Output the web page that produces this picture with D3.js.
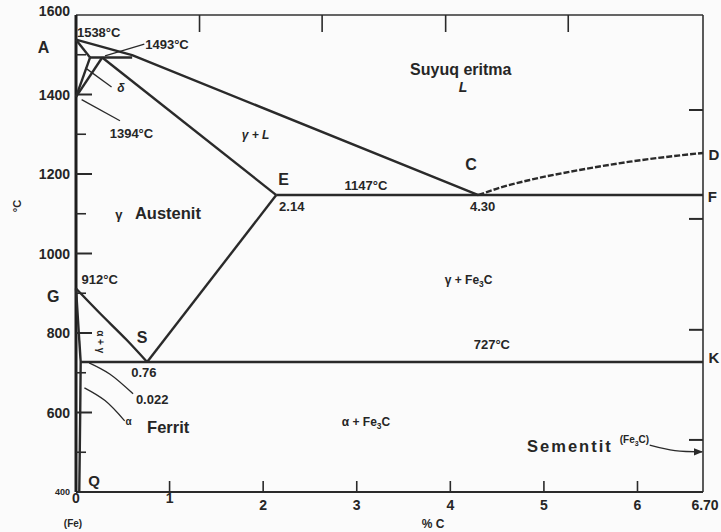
<!DOCTYPE html>
<html>
<head>
<meta charset="utf-8">
<script src="https://cdn.jsdelivr.net/npm/d3@7"></script>
<style>
  body { margin: 0; background: #fbfbfb; }
  svg { display: block; }
  .lbl { font-family: "Liberation Sans", Arial, sans-serif; fill: #262626; font-weight: bold; }
  .phase { fill: none; stroke: #2a2a2a; stroke-width: 2.4; stroke-linejoin: round; }
  .leader { fill: none; stroke: #2a2a2a; stroke-width: 1.3; }
</style>
</head>
<body>
<div id="chart"></div>
<script>
var width = 721;
var height = 532;

// axis ticks
var tempMajor = [400, 600, 800, 1000, 1200, 1400, 1600];
var tempMinor = [500, 700, 900, 1100, 1300, 1500];
var carbonTicks = [0, 1, 2, 3, 4, 5, 6, 6.70];
var topTicks = [1.32, 2.63, 3.95, 5.26];
var rightTicks = [1361, 1087, 808, 531];

// phase boundaries, [%C, °C]
var liquidusABC = [[0, 1538], [0.6, 1499], [4.30, 1147]];
var liquidusCD = [[4.30, 1147], [4.55, 1167], [4.85, 1185], [5.38, 1210], [5.92, 1231], [6.70, 1253]];
var peritectic = [[0.15, 1493], [0.6, 1493]];
var deltaAH = [[0, 1538], [0.15, 1493]];
var deltaHN = [[0.15, 1493], [0, 1394]];
var deltaJN = [[0.28, 1493], [0, 1394]];
var solidusJE = [[0.28, 1493], [2.14, 1147]];
var eutectic = [[2.14, 1147], [6.70, 1147]];
var solvusES = [[2.14, 1147], [0.76, 727]];
var lineGS = [[0, 912], [0.25, 851], [0.54, 783], [0.76, 727]];
var lineGP = [[0, 912], [0.05, 727]];
var linePQ = [[0.05, 727], [0.045, 600], [0.035, 400]];
var eutectoid = [[0.05, 727], [6.70, 727]];

// leader lines for annotations
var leaders = [
  [[0.31, 1497], [0.73, 1527]],
  [[0.10, 1467], [0.38, 1419]],
  [[0.06, 1387], [0.47, 1334]],
  [[0.14, 725], [0.36, 697], [0.61, 647]],
  [[0.09, 662], [0.31, 630], [0.52, 579]]
];
var sementitArrow = [[6.13, 518], [6.40, 504], [6.69, 501]];

var svg = d3.select("#chart")
  .append("svg")
  .attr("width", width)
  .attr("height", height);

var xScale = d3.scaleLinear().domain([0, 6.70]).range([76, 703]);
var yScale = d3.scaleLinear().domain([400, 1600]).range([492, 15]);

var line = d3.line()
  .x(function(d) { return xScale(d[0]); })
  .y(function(d) { return yScale(d[1]); });
var curve = d3.line()
  .x(function(d) { return xScale(d[0]); })
  .y(function(d) { return yScale(d[1]); })
  .curve(d3.curveMonotoneX);
var curveY = d3.line()
  .x(function(d) { return xScale(d[0]); })
  .y(function(d) { return yScale(d[1]); })
  .curve(d3.curveCatmullRom);

// frame
svg.append("line").attr("x1", xScale(0)).attr("x2", xScale(6.70))
  .attr("y1", yScale(1600)).attr("y2", yScale(1600))
  .attr("stroke", "#333").attr("stroke-width", 1.6);
svg.append("line").attr("x1", xScale(6.70)).attr("x2", xScale(6.70))
  .attr("y1", yScale(1600)).attr("y2", yScale(400))
  .attr("stroke", "#333").attr("stroke-width", 1.6);
svg.append("line").attr("x1", xScale(0)).attr("x2", xScale(6.70))
  .attr("y1", yScale(400)).attr("y2", yScale(400))
  .attr("stroke", "#2a2a2a").attr("stroke-width", 2);
svg.append("line").attr("x1", xScale(0)).attr("x2", xScale(0))
  .attr("y1", yScale(1600)).attr("y2", yScale(400))
  .attr("stroke", "#1e1e1e").attr("stroke-width", 3);

// left ticks (inside)
svg.selectAll(".tmaj").data(tempMajor.slice(1, -1)).enter()
  .append("line")
  .attr("x1", xScale(0)).attr("x2", xScale(0) + 16)
  .attr("y1", function(d) { return yScale(d); })
  .attr("y2", function(d) { return yScale(d); })
  .attr("stroke", "#2a2a2a").attr("stroke-width", 2);
svg.selectAll(".tmin").data(tempMinor).enter()
  .append("line")
  .attr("x1", xScale(0)).attr("x2", xScale(0) + 10)
  .attr("y1", function(d) { return yScale(d); })
  .attr("y2", function(d) { return yScale(d); })
  .attr("stroke", "#2a2a2a").attr("stroke-width", 1.6);

// right ticks
svg.selectAll(".rt").data(rightTicks).enter()
  .append("line")
  .attr("x1", xScale(6.70) - 14).attr("x2", xScale(6.70))
  .attr("y1", function(d) { return yScale(d); })
  .attr("y2", function(d) { return yScale(d); })
  .attr("stroke", "#2a2a2a").attr("stroke-width", 2);

// top ticks
svg.selectAll(".tt").data(topTicks).enter()
  .append("line")
  .attr("x1", function(d) { return xScale(d); })
  .attr("x2", function(d) { return xScale(d); })
  .attr("y1", yScale(1600)).attr("y2", yScale(1600) + 17)
  .attr("stroke", "#2a2a2a").attr("stroke-width", 1.6);

// bottom ticks
svg.selectAll(".bt").data(carbonTicks.slice(1, -1)).enter()
  .append("line")
  .attr("x1", function(d) { return xScale(d); })
  .attr("x2", function(d) { return xScale(d); })
  .attr("y1", yScale(400)).attr("y2", yScale(400) - 11)
  .attr("stroke", "#2a2a2a").attr("stroke-width", 1.6);

// tick labels
svg.selectAll(".yl").data(tempMajor).enter()
  .append("text")
  .attr("class", "lbl")
  .attr("x", 70)
  .attr("y", function(d) { return yScale(d); })
  .attr("dy", function(d) { return d === 1600 ? "0.1em" : "0.36em"; })
  .attr("text-anchor", "end")
  .attr("font-size", function(d) { return d === 400 ? 9 : 14; })
  .text(function(d) { return d; });

svg.selectAll(".xl").data(carbonTicks).enter()
  .append("text")
  .attr("class", "lbl")
  .attr("x", function(d) { return xScale(d) + (d === 6.70 ? 2 : 0); })
  .attr("y", function(d) { return d < 2 ? 503 : 510; })
  .attr("text-anchor", "middle")
  .attr("font-size", 14)
  .text(function(d) { return d === 6.70 ? "6.70" : d; });

svg.append("text").attr("class", "lbl")
  .attr("x", xScale(0) - 3).attr("y", 527)
  .attr("text-anchor", "middle").attr("font-size", 10)
  .text("(Fe)");
svg.append("text").attr("class", "lbl")
  .attr("x", 433).attr("y", 528)
  .attr("text-anchor", "middle").attr("font-size", 12)
  .text("% C");
svg.append("text").attr("class", "lbl")
  .attr("transform", "translate(21,206)rotate(-90)")
  .attr("text-anchor", "middle").attr("font-size", 11)
  .text("°C");

// phase lines
[liquidusABC, peritectic, deltaAH, deltaHN, deltaJN, solidusJE, solvusES, lineGP].forEach(function(p) {
  svg.append("path").attr("class", "phase").attr("d", line(p));
});
svg.append("path").attr("class", "phase").attr("d", curveY(lineGS));
svg.append("path").attr("class", "phase").attr("d", curveY(linePQ)).attr("stroke-width", 2.6);
svg.append("path").attr("class", "phase").attr("d", line(eutectic)).attr("stroke-width", 3.2);
svg.append("path").attr("class", "phase").attr("d", line(eutectoid)).attr("stroke-width", 3);
svg.append("path").attr("class", "phase").attr("d", curve(liquidusCD))
  .attr("stroke-dasharray", "6,2").attr("stroke-width", 2.6);

// leaders
leaders.forEach(function(p) {
  svg.append("path").attr("class", "leader").attr("d", curveY(p));
});

svg.append("defs").append("marker")
  .attr("id", "arr").attr("viewBox", "0 0 10 10")
  .attr("refX", 9).attr("refY", 5)
  .attr("markerWidth", 7).attr("markerHeight", 7)
  .attr("orient", "auto")
  .append("path").attr("d", "M0,1L10,5L0,9Z").attr("fill", "#2a2a2a");
svg.append("path").attr("class", "leader")
  .attr("d", curveY(sementitArrow))
  .attr("marker-end", "url(#arr)");

// region and point labels [text, %C, °C, size, style]
var labels = [
  ["1538°C", 0.01, 1545, 13, ""],
  ["A", -0.41, 1505, 16, ""],
  ["1493°C", 0.74, 1515, 13, ""],
  ["δ", 0.44, 1407, 12, "italic"],
  ["1394°C", 0.36, 1291, 13, ""],
  ["Suyuq eritma", 3.57, 1449, 16, ""],
  ["L", 4.09, 1407, 14, "italic"],
  ["γ + L", 1.77, 1289, 12, "italic"],
  ["C", 4.16, 1210, 16, ""],
  ["E", 2.16, 1173, 16, ""],
  ["1147°C", 2.87, 1160, 13, ""],
  ["2.14", 2.17, 1106, 13, ""],
  ["4.30", 4.21, 1106, 13, ""],
  ["D", 6.76, 1235, 15, ""],
  ["F", 6.75, 1130, 15, ""],
  ["K", 6.76, 725, 15, ""],
  ["γ", 0.42, 1087, 13, ""],
  ["Austenit", 0.63, 1087, 16.5, ""],
  ["912°C", 0.06, 923, 13, ""],
  ["G", -0.31, 878, 16, ""],
  ["S", 0.65, 775, 16, ""],
  ["0.76", 0.59, 690, 13, ""],
  ["0.022", 0.64, 622, 13, ""],
  ["727°C", 4.25, 760, 13, ""],
  ["α", 0.53, 568, 10, ""],
  ["Ferrit", 0.76, 549, 16.5, ""],
  ["Q", 0.13, 415, 15, ""]
];
svg.selectAll(".ann").data(labels).enter()
  .append("text")
  .attr("class", "lbl")
  .attr("x", function(d) { return xScale(d[1]); })
  .attr("y", function(d) { return yScale(d[2]); })
  .attr("font-size", function(d) { return d[3]; })
  .attr("font-style", function(d) { return d[4] || null; })
  .text(function(d) { return d[0]; });

svg.append("text").attr("class", "lbl")
  .attr("x", xScale(4.82)).attr("y", yScale(501))
  .attr("font-size", 16.5).attr("letter-spacing", 2)
  .text("Sementit");

// labels with subscripts
function fe3c(parent, prefix, c, t, size) {
  var tx = parent.append("text").attr("class", "lbl")
    .attr("x", xScale(c)).attr("y", yScale(t))
    .attr("font-size", size);
  tx.append("tspan").text(prefix + "Fe");
  tx.append("tspan").attr("font-size", size * 0.7).attr("dy", 3).text("3");
  tx.append("tspan").attr("dy", -3).text("C" + (prefix === "(" ? ")" : ""));
}
fe3c(svg, "γ + ", 3.94, 923, 12);
fe3c(svg, "α + ", 2.84, 566, 12);
fe3c(svg, "(", 5.81, 524, 10);

// rotated α + γ
svg.append("text").attr("class", "lbl")
  .attr("transform", "translate(" + (xScale(0.22)) + "," + yScale(778) + ")rotate(90)")
  .attr("text-anchor", "middle").attr("font-size", 10)
  .text("α + γ");
</script>
</body>
</html>
